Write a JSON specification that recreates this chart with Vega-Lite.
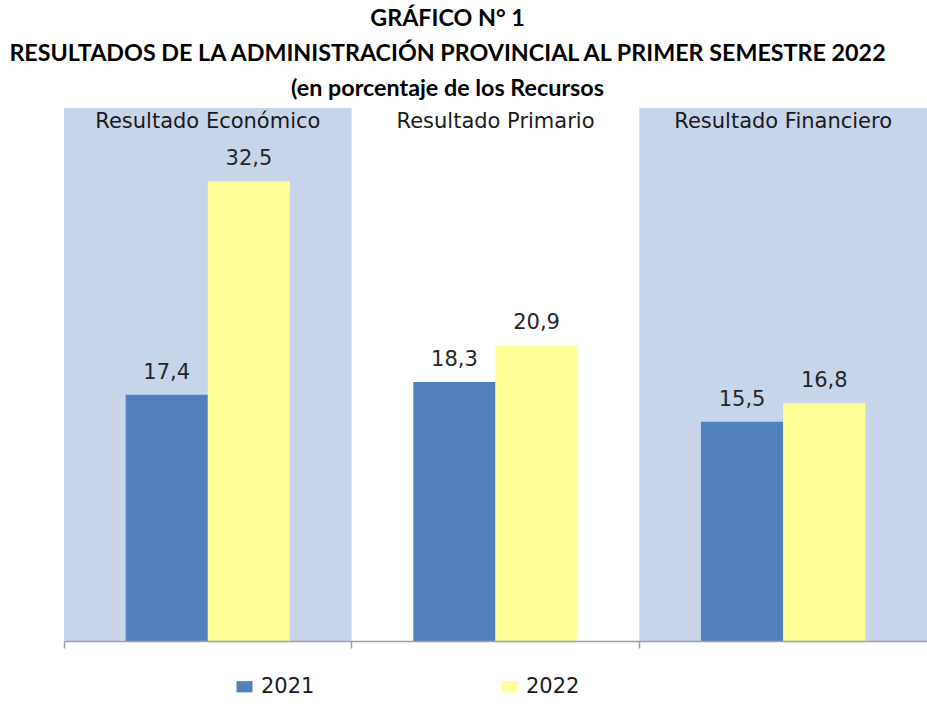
{
  "$schema": "https://vega.github.io/schema/vega-lite/v6.json",
  "width": 863,
  "height": 533,
  "autosize": {"type": "none"},
  "padding": {"left": 64, "top": 108, "right": 0, "bottom": 80},
  "background": "white",
  "config": {
    "view": {"stroke": null},
    "locale": {"number": {"decimal": ",", "thousands": ".", "grouping": [3], "currency": ["", ""]}}
  },
  "title": {
    "text": ["GRÁFICO N° 1", "RESULTADOS DE LA ADMINISTRACIÓN PROVINCIAL AL PRIMER SEMESTRE 2022", "(en porcentaje de los Recursos"],
    "font": "Lato",
    "fontWeight": "bold",
    "fontSize": 23.3,
    "lineHeight": 35,
    "anchor": "middle",
    "dx": -48,
    "offset": 7,
    "color": "#000000"
  },
  "datasets": {
    "bands": [
      {"cat": "Resultado Económico", "shaded": "si"},
      {"cat": "Resultado Primario", "shaded": "no"},
      {"cat": "Resultado Financiero", "shaded": "si"}
    ],
    "vals": [
      {"cat": "Resultado Económico", "year": "2021", "value": 17.4},
      {"cat": "Resultado Económico", "year": "2022", "value": 32.5},
      {"cat": "Resultado Primario", "year": "2021", "value": 18.3},
      {"cat": "Resultado Primario", "year": "2022", "value": 20.9},
      {"cat": "Resultado Financiero", "year": "2021", "value": 15.5},
      {"cat": "Resultado Financiero", "year": "2022", "value": 16.8}
    ]
  },
  "layer": [
    {
      "data": {"name": "bands"},
      "transform": [{"filter": "datum.shaded == 'si'"}],
      "mark": {"type": "rect", "color": "#c6d5ea"},
      "encoding": {
        "x": {"field": "cat", "type": "nominal", "sort": null,
              "scale": {"domain": ["Resultado Económico", "Resultado Primario", "Resultado Financiero"], "paddingInner": 0, "paddingOuter": 0},
              "axis": {"labels": false, "title": null, "domainColor": "#a0a0a0", "tickColor": "#a0a0a0", "tickSize": 7, "bandPosition": 0, "grid": false, "domainWidth": 1.5, "tickWidth": 1.5}},
        "y": {"datum": 37.67, "type": "quantitative", "scale": {"domain": [0, 37.67], "nice": false, "zero": true}, "axis": null},
        "y2": {"datum": 0}
      }
    },
    {
      "data": {"name": "bands"},
      "mark": {"type": "text", "baseline": "top", "dy": 3, "font": "DejaVu Sans", "fontSize": 21, "color": "#1a1a1a"},
      "encoding": {
        "x": {"field": "cat", "type": "nominal", "sort": null},
        "y": {"datum": 37.67, "type": "quantitative"},
        "text": {"field": "cat"}
      }
    },
    {
      "data": {"name": "vals"},
      "mark": {"type": "bar"},
      "encoding": {
        "x": {"field": "cat", "type": "nominal", "sort": null},
        "xOffset": {"field": "year", "type": "nominal", "scale": {"paddingInner": 0, "paddingOuter": 0.75}},
        "y": {"field": "value", "type": "quantitative"},
        "color": {"field": "year", "type": "nominal",
          "scale": {"domain": ["2021", "2022"], "range": ["#4f81bd", "#ffff99"]},
          "legend": {"orient": "none", "legendX": 170, "legendY": 568, "direction": "horizontal", "title": null,
                     "symbolType": "M-1,-0.7H1V0.7H-1Z", "symbolSize": 256, "symbolStrokeWidth": 0, "symbolOpacity": 1,
                     "labelFont": "DejaVu Sans", "labelFontSize": 21, "labelColor": "#1a1a1a", "labelOffset": 6, "columnPadding": 184}}
      }
    },
    {
      "data": {"name": "vals"},
      "mark": {"type": "text", "baseline": "bottom", "dy": -12, "font": "DejaVu Sans", "fontSize": 21, "color": "#262626"},
      "encoding": {
        "x": {"field": "cat", "type": "nominal", "sort": null},
        "xOffset": {"field": "year", "type": "nominal"},
        "y": {"field": "value", "type": "quantitative"},
        "text": {"field": "value", "type": "quantitative", "format": ".1f"}
      }
    }
  ]
}
